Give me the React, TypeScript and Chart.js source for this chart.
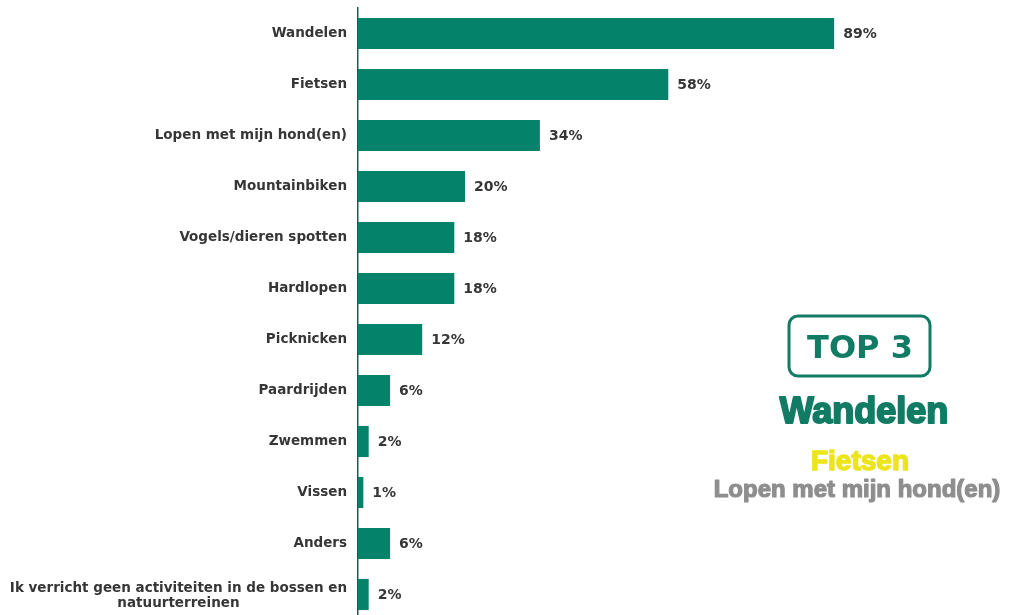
import React, { useEffect, useRef } from "react";
import { Chart, registerables } from "chart.js";

Chart.register(...registerables);

const categories: (string | string[])[] = [
  "Wandelen",
  "Fietsen",
  "Lopen met mijn hond(en)",
  "Mountainbiken",
  "Vogels/dieren spotten",
  "Hardlopen",
  "Picknicken",
  "Paardrijden",
  "Zwemmen",
  "Vissen",
  "Anders",
  ["Ik verricht geen activiteiten in de bossen en", "natuurterreinen"],
];

const values: number[] = [89, 58, 34, 20, 18, 18, 12, 6, 2, 1, 6, 2];

const top3: string[] = ["Wandelen", "Fietsen", "Lopen met mijn hond(en)"];

const BAR = "#05826a";
const TEAL_TEXT = "#127b64";
const LABEL = "#363636";
const TICK_FONT = "bold 13.5px 'DejaVu Sans'";

const valueLabels = {
  id: "valueLabels",
  afterDatasetsDraw(chart: any) {
    const ctx = chart.ctx;
    const meta = chart.getDatasetMeta(0);
    ctx.save();
    ctx.font = "bold 14px 'DejaVu Sans'";
    ctx.fillStyle = LABEL;
    ctx.textAlign = "left";
    ctx.textBaseline = "middle";
    meta.data.forEach((bar: any, i: number) => {
      ctx.fillText(values[i] + "%", bar.x + 9, bar.y + 1);
    });
    ctx.restore();
  },
};

// multi-line category labels are drawn centred on their own block (as in the original)
const multiLineLabels = {
  id: "multiLineLabels",
  afterDraw(chart: any) {
    const ctx = chart.ctx;
    const y = chart.scales.y;
    const right = chart.chartArea.left - 11;
    ctx.save();
    ctx.font = TICK_FONT;
    ctx.fillStyle = LABEL;
    ctx.textBaseline = "middle";
    ctx.textAlign = "center";
    categories.forEach((c, i) => {
      if (!Array.isArray(c)) return;
      const widths = c.map((l) => ctx.measureText(l).width);
      const maxW = Math.max(...widths);
      const cx = right - maxW / 2;
      const lh = 15;
      const cy = y.getPixelForValue(i);
      c.forEach((line, j) => {
        ctx.fillText(line, cx, cy + (j - (c.length - 1) / 2) * lh + 1);
      });
    });
    ctx.restore();
  },
};

function heavyText(ctx: CanvasRenderingContext2D, text: string, x: number, y: number, color: string, w: number) {
  ctx.fillStyle = color;
  ctx.strokeStyle = color;
  ctx.lineWidth = w;
  ctx.lineJoin = "round";
  ctx.strokeText(text, x, y);
  ctx.fillText(text, x, y);
}

const top3Box = {
  id: "top3Box",
  afterDraw(chart: any) {
    const ctx = chart.ctx;
    const cx = 860;
    ctx.save();
    ctx.strokeStyle = TEAL_TEXT;
    ctx.lineWidth = 3;
    ctx.beginPath();
    (ctx as any).roundRect(789, 316, 141, 60, 9);
    ctx.stroke();
    ctx.textAlign = "center";
    ctx.textBaseline = "alphabetic";
    ctx.fillStyle = TEAL_TEXT;
    ctx.font = "bold 32px 'DejaVu Sans'";
    ctx.fillText("TOP 3", cx, 358);
    ctx.font = "bold 36px 'Liberation Sans'";
    heavyText(ctx, top3[0], 864, 423, TEAL_TEXT, 2);
    ctx.font = "bold 28px 'Liberation Sans'";
    heavyText(ctx, top3[1], cx, 470, "#ece51c", 1.5);
    ctx.font = "bold 24px 'Liberation Sans'";
    heavyText(ctx, top3[2], 857, 497, "#8e8e8e", 1.2);
    ctx.restore();
  },
};

export default function App() {
  const ref = useRef<HTMLCanvasElement>(null);

  useEffect(() => {
    document.body.style.overflow = "hidden";
    const chart = new Chart(ref.current!, {
      type: "bar",
      data: {
        labels: categories,
        datasets: [
          {
            data: values,
            backgroundColor: BAR,
            borderWidth: 0,
            barPercentage: 0.61,
            categoryPercentage: 1,
          },
        ],
      },
      options: {
        indexAxis: "y",
        animation: false,
        responsive: false,
        maintainAspectRatio: false,
        layout: { padding: { top: 8, right: 118, left: 0, bottom: 0 } },
        plugins: {
          legend: { display: false },
          tooltip: { enabled: false },
        },
        scales: {
          x: {
            min: 0,
            max: 100,
            display: false,
          },
          y: {
            afterFit(scale: any) {
              scale.width = 358;
              scale.paddingTop = 0;
              scale.paddingBottom = 0;
            },
            grid: {
              display: true,
              color: "rgba(0,0,0,0)",
              drawTicks: false,
            },
            border: { display: true, color: "#1f5a4c", width: 1.5 },
            ticks: {
              padding: 11,
              color: LABEL,
              font: { family: "'DejaVu Sans'", size: 13.5, weight: "bold", lineHeight: 1.1 },
              callback: (_v: any, i: number) => {
                const c = categories[i];
                return Array.isArray(c) ? "" : c;
              },
            },
          },
        },
      },
      plugins: [valueLabels, multiLineLabels, top3Box],
    });
    return () => chart.destroy();
  }, []);

  return (
    <div
      style={{
        position: "fixed",
        left: 0,
        top: 0,
        width: 1011,
        height: 615,
        overflow: "hidden",
        background: "#fff",
      }}
    >
      <canvas ref={ref} width={1011} height={620} style={{ display: "block" }} />
    </div>
  );
}
